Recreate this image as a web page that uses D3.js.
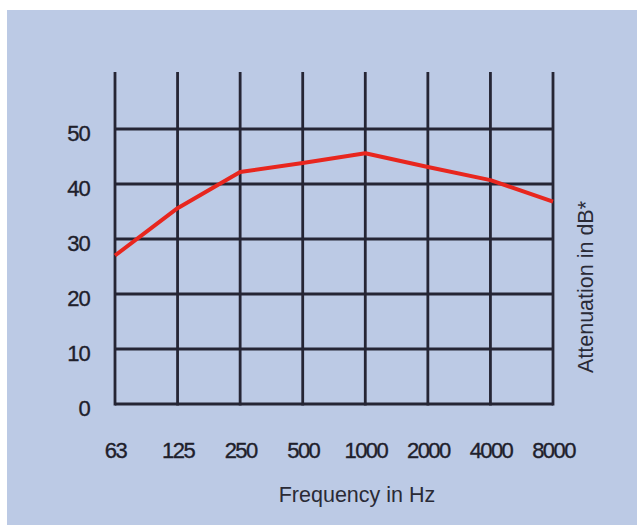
<!DOCTYPE html>
<html>
<head>
<meta charset="utf-8">
<script src="https://cdn.jsdelivr.net/npm/d3@7"></script>
<style>
  html, body { margin: 0; padding: 0; background: #ffffff; }
  svg { display: block; }
  .lbl { font-family: "Liberation Sans", Arial, sans-serif; fill: #20202b; stroke: #20202b; stroke-width: 0.35px; }
  .ttl { font-family: "Liberation Sans", Arial, sans-serif; fill: #2a2a36; }
</style>
</head>
<body>
<script>
// Data
const frequencies = ["63", "125", "250", "500", "1000", "2000", "4000", "8000"];
const attenuation = [27, 35.6, 42.2, 43.8, 45.6, 43.1, 40.7, 36.8];
const yTicks = [0, 10, 20, 30, 40, 50];
const xTitle = "Frequency in Hz";
const yTitle = "Attenuation in dB*";

const W = 637, H = 525;
const svg = d3.select("body").append("svg").attr("width", W).attr("height", H);

// background panel
svg.append("rect").attr("x", 7).attr("y", 10).attr("width", W - 7).attr("height", H - 10)
  .attr("fill", "#bccae5");

const x = d3.scalePoint().domain(frequencies).range([115, 553]);
const y = d3.scaleLinear().domain([0, 60]).range([404, 74]);

const gridColor = "#252534";
// horizontal grid lines
svg.append("g").selectAll("line").data(yTicks).join("line")
  .attr("x1", x(frequencies[0])).attr("x2", x(frequencies[frequencies.length - 1]))
  .attr("y1", d => y(d)).attr("y2", d => y(d))
  .attr("stroke", gridColor).attr("stroke-width", 2.8);
// vertical grid lines
svg.append("g").selectAll("line").data(frequencies).join("line")
  .attr("x1", d => x(d)).attr("x2", d => x(d))
  .attr("y1", y(0) + 1.4).attr("y2", y(60) - 2)
  .attr("stroke", gridColor).attr("stroke-width", 2.8);

// red curve
const line = d3.line().x((d, i) => x(frequencies[i])).y(d => y(d));
svg.append("path").datum(attenuation).attr("d", line)
  .attr("fill", "none").attr("stroke", "#e8261e").attr("stroke-width", 4)
  .attr("stroke-linejoin", "round");

// y axis labels
const yAxis = svg.append("g").attr("transform", `translate(${x(frequencies[0])},4)`)
  .call(d3.axisLeft(y).tickValues(yTicks).tickSize(0).tickPadding(25));
yAxis.select(".domain").remove();
yAxis.selectAll("text").attr("class", "lbl").attr("font-size", 22).attr("font-family", null).attr("fill", null)
  .attr("letter-spacing", -0.8);

// x axis labels
const xAxis = svg.append("g").attr("transform", `translate(0,${y(0)})`)
  .call(d3.axisBottom(x).tickSize(0).tickPadding(38));
xAxis.select(".domain").remove();
xAxis.selectAll("text").attr("class", "lbl").attr("font-size", 22).attr("font-family", null).attr("fill", null)
  .attr("letter-spacing", -1.6);

// titles
svg.append("text").attr("class", "ttl").attr("x", 357).attr("y", 502)
  .attr("text-anchor", "middle").attr("font-size", 21.5).text(xTitle);
svg.append("text").attr("class", "ttl")
  .attr("transform", "translate(593,287) rotate(-90)")
  .attr("text-anchor", "middle").attr("font-size", 21.5).text(yTitle);
</script>
</body>
</html>
